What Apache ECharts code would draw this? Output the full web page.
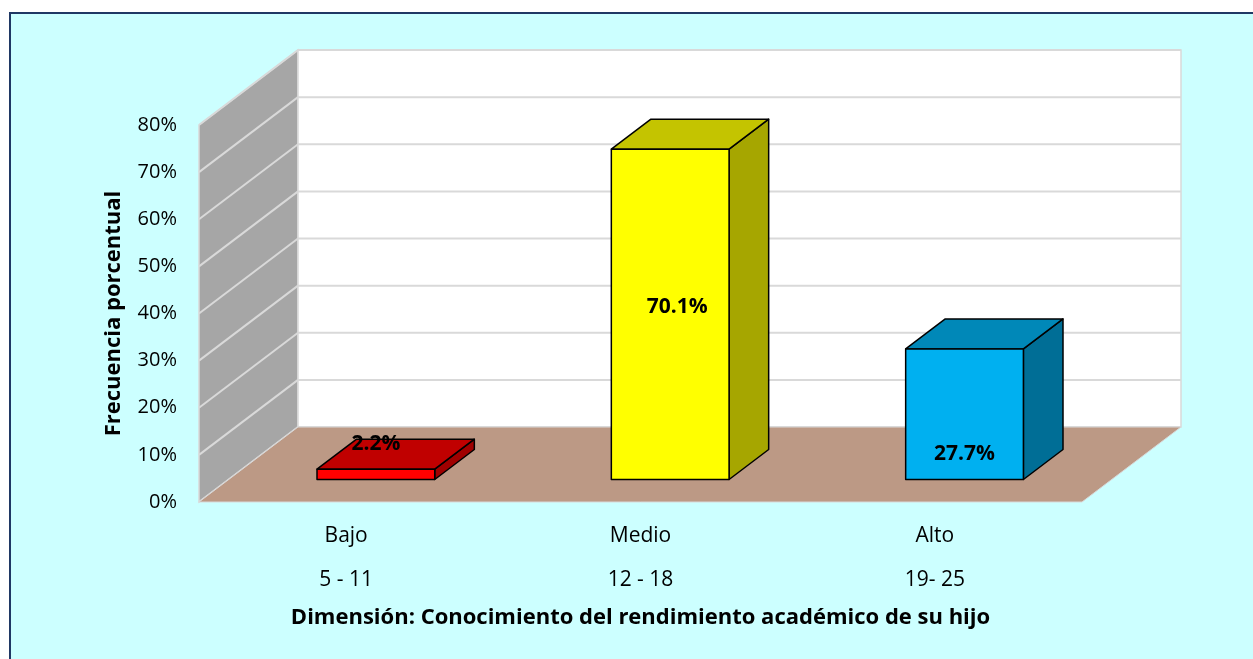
<!DOCTYPE html>
<html>
<head>
<meta charset="utf-8">
<script src="https://cdn.jsdelivr.net/npm/echarts@6/dist/echarts.min.js"></script>
<style>
  html, body { margin: 0; padding: 0; background: #fff; }
  #main { width: 1253px; height: 659px; }
</style>
</head>
<body>
<div id="main"></div>
<script>
// datos del grafico
var categorias = ['Bajo', 'Medio', 'Alto'];
var rangos = ['5 - 11', '12 - 18', '19- 25'];
var porcentajes = [0.022, 0.701, 0.277];
var etiquetas = ['2.2%', '70.1%', '27.7%'];
var ticksY = [0, 0.1, 0.2, 0.3, 0.4, 0.5, 0.6, 0.7, 0.8];

// colores de cada barra: frente, tapa, lado
var colFrente = ['#FF0000', '#FFFF00', '#00B0F0'];
var colTapa = ['#C00000', '#C4C400', '#0088B8'];
var colLado = ['#A00000', '#A6A600', '#006E96'];

var FONT = "'Open Sans', sans-serif";
var DX = 99, DY = -75;      // profundidad del piso / paredes
var BAR_OFF = 0.3, BAR_DEPTH = 0.4; // posicion de la barra en la profundidad
var LABEL_AT = [0.076, 0.365, 0.055]; // altura del texto sobre la base

var chart = echarts.init(document.getElementById('main'));

function renderWalls(params, api) {
  var cs = params.coordSys;
  var x0 = cs.x, x1 = cs.x + cs.width;
  var yb = api.coord([0, 0])[1];
  var yt = api.coord([0, ticksY[ticksY.length - 1]])[1];
  var kids = [];
  // pared lateral
  kids.push({
    type: 'polygon',
    shape: { points: [[x0, yb], [x0 + DX, yb + DY], [x0 + DX, yt + DY], [x0, yt]] },
    style: { fill: '#A6A6A6', stroke: '#D9D9D9', lineWidth: 1.5 }
  });
  // pared del fondo
  kids.push({
    type: 'rect',
    shape: { x: x0 + DX, y: yt + DY, width: x1 - x0, height: yb - yt },
    style: { fill: '#FFFFFF', stroke: '#D9D9D9', lineWidth: 1.5 }
  });
  // lineas de division
  ticksY.forEach(function (v) {
    var y = api.coord([0, v])[1];
    kids.push({
      type: 'line',
      shape: { x1: x0, y1: y, x2: x0 + DX, y2: y + DY },
      style: { stroke: '#D9D9D9', lineWidth: 2 }
    });
    kids.push({
      type: 'line',
      shape: { x1: x0 + DX, y1: y + DY, x2: x1 + DX, y2: y + DY },
      style: { stroke: '#D9D9D9', lineWidth: 2 }
    });
  });
  // piso
  kids.push({
    type: 'polygon',
    shape: { points: [[x0, yb], [x1, yb], [x1 + DX, yb + DY], [x0 + DX, yb + DY]] },
    style: { fill: '#BC9985', stroke: '#D9D9D9', lineWidth: 1 }
  });
  return { type: 'group', children: kids };
}

function renderBar(params, api) {
  var i = api.value(0);
  var v = api.value(1);
  var c0 = api.coord([i, 0]);
  var c1 = api.coord([i, v]);
  var bw = api.size([1, 0])[0] * 0.4;
  var ox = DX * BAR_OFF, oy = DY * BAR_OFF;
  var dx = DX * BAR_DEPTH, dy = DY * BAR_DEPTH;
  var xl = c0[0] - bw / 2 + ox, xr = c0[0] + bw / 2 + ox;
  var yb = c0[1] + oy, yt = c1[1] + oy;
  var ln = { stroke: '#000', lineWidth: 1.5, lineJoin: 'round' };
  var yl = api.coord([i, LABEL_AT[i]])[1] + oy;
  return {
    type: 'group',
    children: [
      {
        type: 'polygon',
        shape: { points: [[xr, yb], [xr + dx, yb + dy], [xr + dx, yt + dy], [xr, yt]] },
        style: Object.assign({ fill: colLado[i] }, ln)
      },
      {
        type: 'polygon',
        shape: { points: [[xl, yt], [xr, yt], [xr + dx, yt + dy], [xl + dx, yt + dy]] },
        style: Object.assign({ fill: colTapa[i] }, ln)
      },
      {
        type: 'rect',
        shape: { x: xl, y: yt, width: xr - xl, height: yb - yt },
        style: Object.assign({ fill: colFrente[i] }, ln)
      },
      {
        type: 'text',
        x: (xl + xr) / 2 + (i === 1 ? 7 : 0),
        y: yl,
        style: {
          text: etiquetas[i], fill: '#000', font: 'bold 21px ' + FONT,
          align: 'center', verticalAlign: 'middle'
        }
      }
    ]
  };
}

chart.setOption({
  backgroundColor: '#FFFFFF',
  graphic: [{
    type: 'rect', z: -10, silent: true,
    shape: { x: 10, y: 13, width: 1300, height: 700 },
    style: { fill: '#CCFFFF', stroke: '#1F3864', lineWidth: 2 }
  }],
  grid: { left: 199, right: 171, top: 125, bottom: 157 },
  xAxis: {
    type: 'category',
    data: categorias,
    axisLine: { show: false },
    axisTick: { show: false },
    axisLabel: {
      margin: 12,
      color: '#000',
      fontFamily: FONT,
      fontSize: 21,
      lineHeight: 44,
      formatter: function (v, idx) { return v + '\n' + rangos[idx]; }
    },
    name: 'Dimensión: Conocimiento del rendimiento académico de su hijo',
    nameLocation: 'middle',
    nameGap: 101,
    nameTextStyle: { color: '#000', fontFamily: FONT, fontSize: 22, fontWeight: 'bold' }
  },
  yAxis: {
    type: 'value',
    min: 0,
    max: 0.8,
    interval: 0.1,
    axisLine: { show: false },
    axisTick: { show: false },
    splitLine: { show: false },
    axisLabel: {
      margin: 22,
      color: '#000',
      fontFamily: FONT,
      fontSize: 20,
      formatter: function (v) { return Math.round(v * 100) + '%'; }
    },
    name: 'Frecuencia porcentual',
    nameLocation: 'middle',
    nameGap: 74,
    nameTextStyle: { color: '#000', fontFamily: FONT, fontSize: 22, fontWeight: 'bold' }
  },
  series: [
    {
      type: 'custom',
      silent: true,
      z: 1,
      renderItem: renderWalls,
      data: [[0, 0]]
    },
    {
      type: 'custom',
      z: 2,
      renderItem: renderBar,
      data: porcentajes.map(function (v, i) { return [i, v]; })
    }
  ]
});
</script>
</body>
</html>
